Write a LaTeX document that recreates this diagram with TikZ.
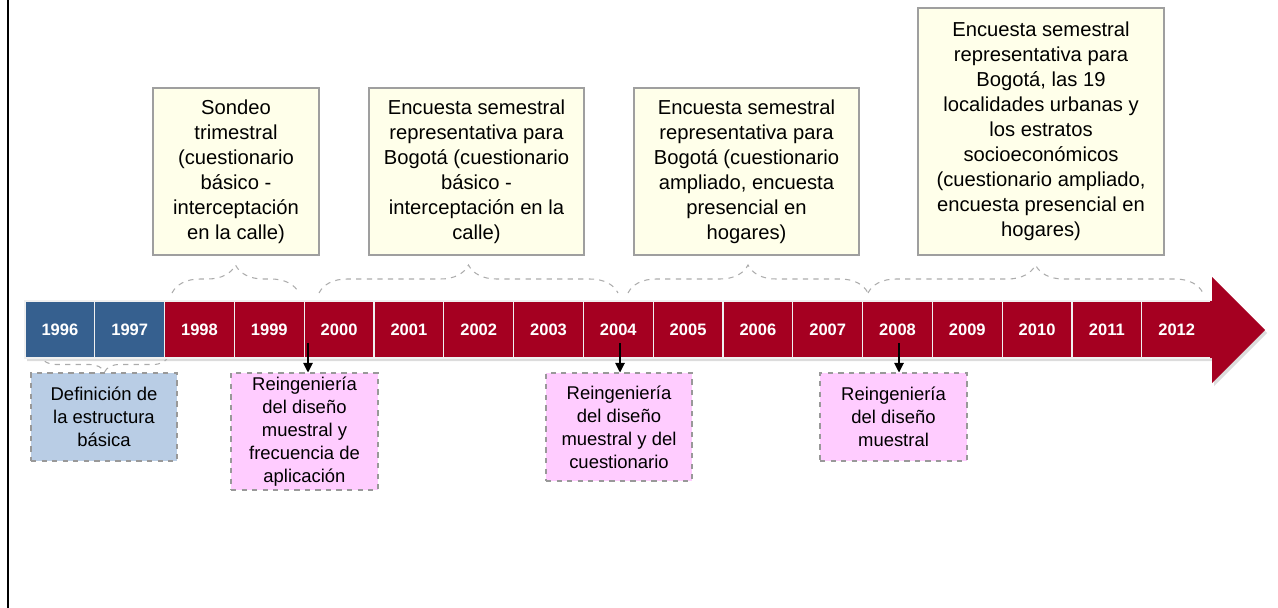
\documentclass[tikz,border=0pt]{standalone}
\usepackage{fontspec}
\setmainfont{Liberation Sans}
\usetikzlibrary{decorations.pathreplacing,arrows.meta}
\definecolor{barred}{HTML}{A50021}
\definecolor{barblue}{HTML}{36608F}
\definecolor{noteyellow}{HTML}{FFFFEA}
\definecolor{noteblue}{HTML}{B9CDE5}
\definecolor{notepink}{HTML}{FFCCFF}
\tikzstyle{yearbox}=[draw=white!88!gray,line width=0.7pt,inner sep=0pt,minimum width=1.396cm,minimum height=1.14cm,text=white,font=\fontsize{9.4}{11}\selectfont\bfseries]
\tikzstyle{survey}=[draw=gray!75,line width=0.8pt,fill=noteyellow,inner sep=0pt,align=center,font=\fontsize{11.5}{14.2}\selectfont]
\tikzstyle{change}=[draw=gray!80,dashed,line width=0.6pt,fill=notepink,inner sep=0pt,align=center,font=\fontsize{10.5}{13.1}\selectfont]
\tikzstyle{curly}=[draw=gray!65,dashed,line width=0.6pt,decorate,decoration={brace,amplitude=0.56cm}]
\tikzstyle{pointer}=[draw,line width=0.6pt,-{Triangle[width=5.5pt,length=5.5pt]}]

\begin{document}
\begin{tikzpicture}[x=0.02cm,y=-0.02cm]
  \useasboundingbox (0,0) rectangle (1278,608);
  \draw[line width=1.4pt] (8,0) -- (8,608);

  % timeline
  \fill[gray,opacity=.28] (27,304) -- (1214,304) -- (1214,280) -- (1267,333)
                          -- (1214,386) -- (1214,361) -- (27,361) -- cycle;
  % bracket under the first two years
  \draw[curly,decoration={brace,amplitude=0.3cm}] (168,357) -- (41,357);
  \foreach \yr [count=\i from 0] in {1996,1997}
    \node[yearbox,fill=barblue] (y\yr) at ({59.9+69.8*\i},329.5) {\yr};
  \foreach \yr [count=\i from 2] in {1998,...,2012}
    \node[yearbox,fill=barred] (y\yr) at ({59.9+69.8*\i},329.5) {\yr};
  \fill[barred] (1210,301) -- (1212,301) -- (1212,277) -- (1265,330)
                -- (1212,383) -- (1212,358) -- (1210,358) -- cycle;

  % survey periods
  \node[survey,minimum width=3.32cm,minimum height=3.34cm] (T1) at (236,171.5)
    {Sondeo\\trimestral\\(cuestionario\\básico -\\interceptación\\en la calle)};
  \node[survey,minimum width=4.3cm,minimum height=3.34cm] (T2) at (476.5,171.5)
    {Encuesta semestral\\representativa para\\Bogotá (cuestionario\\básico -\\interceptación en la\\calle)};
  \node[survey,minimum width=4.5cm,minimum height=3.34cm] (T3) at (746.5,171.5)
    {Encuesta semestral\\representativa para\\Bogotá (cuestionario\\ampliado, encuesta\\presencial en\\hogares)};
  \node[survey,minimum width=4.92cm,minimum height=4.94cm] (T4) at (1041,131.5)
    {Encuesta semestral\\representativa para\\Bogotá, las 19\\localidades urbanas y\\los estratos\\socioeconómicos\\(cuestionario ampliado,\\encuesta presencial en\\hogares)};

  \draw[curly] (172,293) -- (299,293);
  \draw[curly] (319,293) -- (618,293);
  \draw[curly] (628,293) -- (868,293);
  \draw[curly] (868,293) -- (1203,293);

  % changes
  \node[change,fill=noteblue,minimum width=2.92cm,minimum height=1.76cm] (B0) at (104,417)
    {Definición de\\la estructura\\básica};
  \node[change,minimum width=2.94cm,minimum height=2.34cm] (B1) at (304.5,431.5)
    {Reingeniería\\del diseño\\muestral y\\frecuencia de\\aplicación};
  \node[change,minimum width=2.92cm,minimum height=2.16cm] (B2) at (619,427)
    {Reingeniería\\del diseño\\muestral y del\\cuestionario};
  \node[change,minimum width=2.94cm,minimum height=1.76cm] (B3) at (893.5,417)
    {Reingeniería\\del diseño\\muestral};

  \coordinate (p2000) at (308,343);
  \coordinate (p2004) at (620,343);
  \coordinate (p2008) at (899,343);
  \draw[pointer] (p2000) -- (p2000 |- B1.north);
  \draw[pointer] (p2004) -- (p2004 |- B2.north);
  \draw[pointer] (p2008) -- (p2008 |- B3.north);
\end{tikzpicture}
\end{document}
